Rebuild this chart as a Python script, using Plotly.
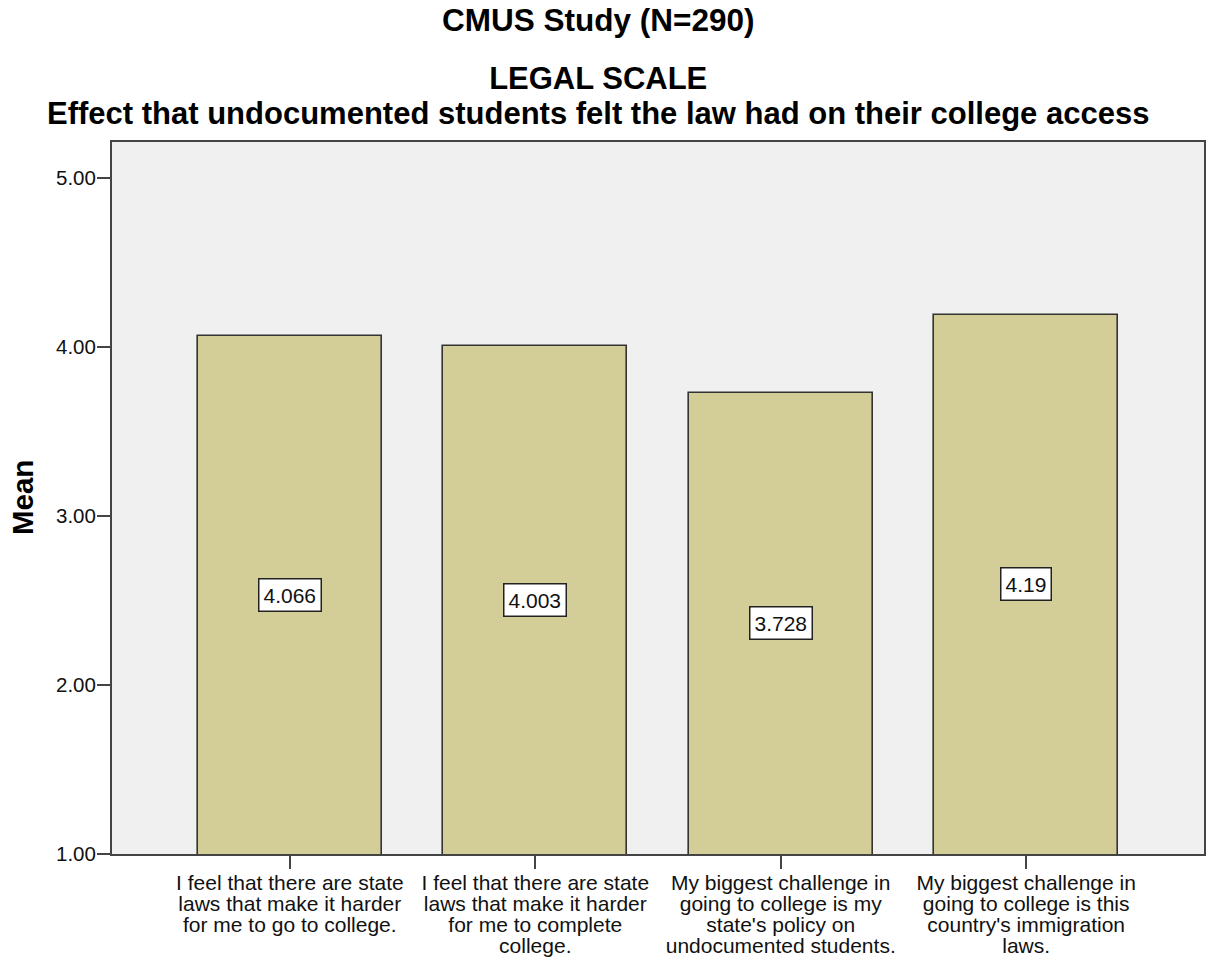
import plotly.graph_objects as go

# Survey items (one bar each), wrapped the way they are printed under the axis
label_lines = [
    ["I feel that there are state", "laws that make it harder", "for me to go to college."],
    ["I feel that there are state", "laws that make it harder", "for me to complete", "college."],
    ["My biggest challenge in", "going to college is my", "state's policy on", "undocumented students."],
    ["My biggest challenge in", "going to college is this", "country's immigration", "laws."],
]
categories = [" ".join(lines) for lines in label_lines]

# Mean agreement score per item
means = [4.066, 4.003, 3.728, 4.19]

y_ticks = [1, 2, 3, 4, 5]

title_main = "CMUS Study (N=290)"
title_scale = "LEGAL SCALE"
title_sub = "Effect that undocumented students felt the law had on their college access"
y_title = "Mean"

FONT = "Arial, 'Liberation Sans', sans-serif"
BAR_FILL = "#d3ce97"
PLOT_BG = "#f0f0f0"
LINE = "#444444"


def tight_lines(lines, glyph_px):
    """Join lines with <br>, drawing glyphs larger than the base font so
    the line pitch (1.3 x base size) stays compact."""
    return "<br>".join(
        '<span style="font-size:%spx">%s</span>' % (glyph_px, ln) for ln in lines
    )


tick_text = [tight_lines(lines, 21) for lines in label_lines]

fig = go.Figure()
fig.add_trace(
    go.Bar(
        x=categories,
        y=means,
        width=0.749,
        marker=dict(color=BAR_FILL, line=dict(color="#333333", width=1.6)),
        hoverinfo="x+y",
    )
)

# Value boxes centred in each bar
for cat, v in zip(categories, means):
    fig.add_annotation(
        x=cat,
        y=(y_ticks[0] + v) / 2,
        xref="x",
        yref="y",
        text=f"{v:g}",
        showarrow=False,
        font=dict(family=FONT, size=21, color="#111111"),
        bgcolor="#ffffff",
        bordercolor="#222222",
        borderwidth=1.5,
        borderpad=4,
        xanchor="center",
        yanchor="middle",
    )

# Titles
fig.add_annotation(
    x=0.4451, y=1.1713, xref="paper", yref="paper",
    text="<b>%s</b>" % title_main, showarrow=False,
    font=dict(family=FONT, size=31.5, color="#000000"),
    xanchor="center", yanchor="middle",
)
fig.add_annotation(
    x=0.4451, y=1.0646, xref="paper", yref="paper",
    text="<b>%s</b>" % tight_lines([title_scale, title_sub], 31),
    showarrow=False,
    font=dict(family=FONT, size=27, color="#000000"),
    xanchor="center", yanchor="middle",
)

fig.add_annotation(
    x=-0.0824, y=0.5, xref="paper", yref="paper",
    text="<b>%s</b>" % y_title, showarrow=False, textangle=-90,
    font=dict(family=FONT, size=29.5, color="#000000"),
    xanchor="center", yanchor="middle",
)

fig.update_layout(
    width=1208,
    height=957,
    margin=dict(l=112, r=4, t=142, b=103),
    paper_bgcolor="#ffffff",
    plot_bgcolor=PLOT_BG,
    showlegend=False,
    font=dict(family=FONT, color="#111111"),
    bargap=0,
)

fig.update_xaxes(
    type="category",
    range=[-0.7245, 3.7245],
    tickmode="array",
    tickvals=categories,
    ticktext=tick_text,
    tickfont=dict(family=FONT, size=16, color="#111111"),
    ticks="outside",
    ticklen=13,
    tickwidth=2,
    tickcolor=LINE,
    ticklabelstandoff=2,
    showline=True,
    linecolor=LINE,
    linewidth=2,
    mirror=True,
    showgrid=False,
    zeroline=False,
    automargin=False,
)

fig.update_yaxes(
    range=[1, 5.213],
    tickmode="array",
    tickvals=y_ticks,
    tickformat=".2f",
    tickfont=dict(family=FONT, size=20.5, color="#111111"),
    ticks="outside",
    ticklen=13,
    tickwidth=2,
    tickcolor=LINE,
    ticklabelstandoff=-3,
    showline=True,
    linecolor=LINE,
    linewidth=2,
    mirror=True,
    showgrid=False,
    zeroline=False,
    automargin=False,
)

fig.write_html("out.html")
